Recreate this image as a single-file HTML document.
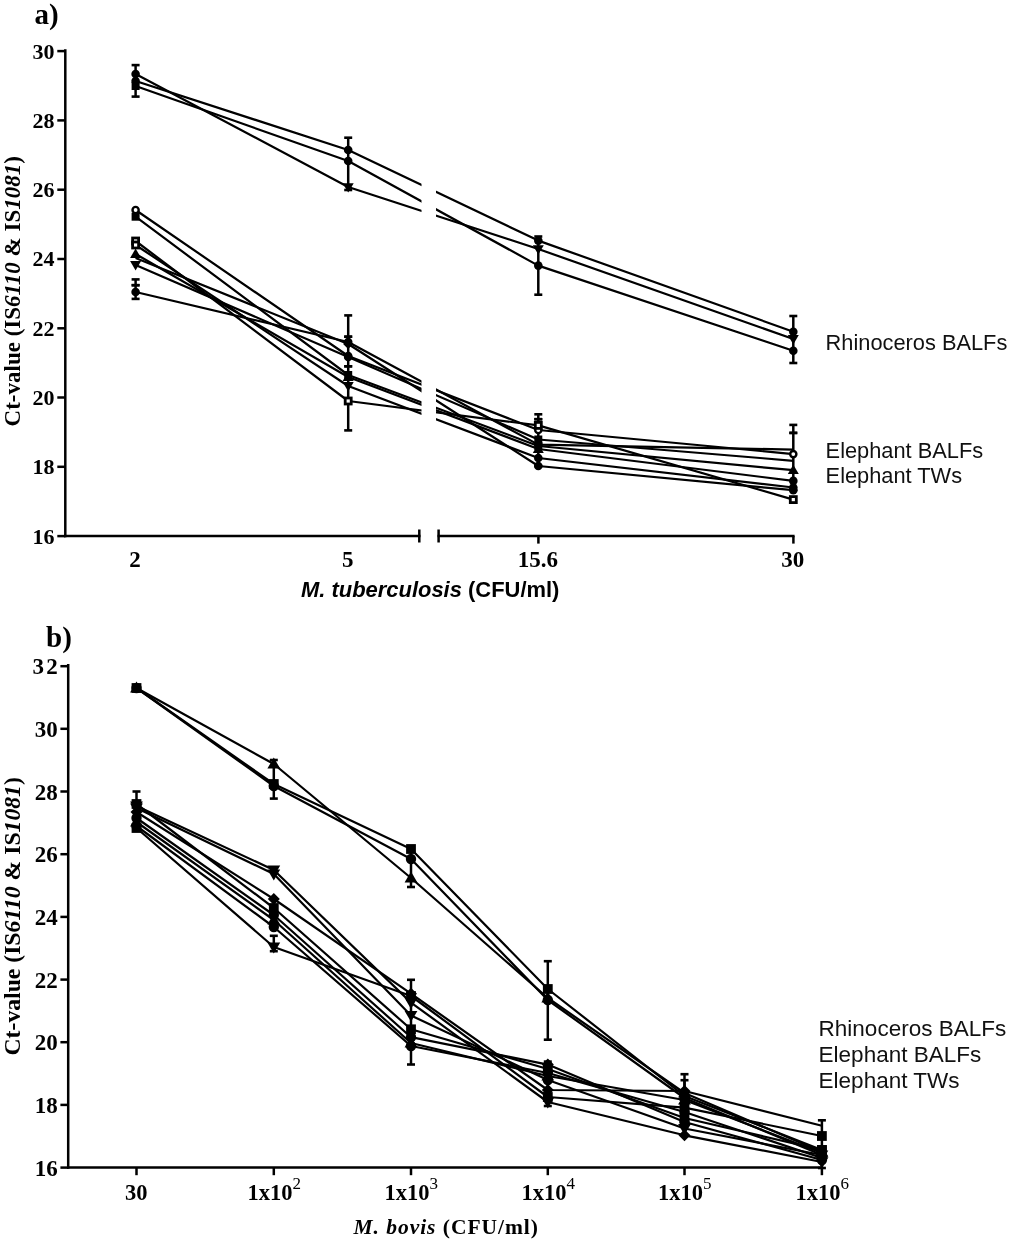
<!DOCTYPE html><html><head><meta charset="utf-8"><style>html,body{margin:0;padding:0;background:#fff;}svg{display:block;filter:blur(0.4px);}</style></head><body>
<svg width="1010" height="1245" viewBox="0 0 1010 1245">
<rect width="1010" height="1245" fill="#fff"/>
<text x="34.5" y="24.3" font-family='"Liberation Serif", serif' font-size="29" font-weight="bold" font-style="normal" text-anchor="start" >a)</text>
<line x1="65.3" y1="49.3" x2="65.3" y2="537.3" stroke="#000" stroke-width="2.5"/>
<line x1="57.3" y1="536.1" x2="65.3" y2="536.1" stroke="#000" stroke-width="2.5"/>
<text x="54.6" y="543.6" font-family='"Liberation Serif", serif' font-size="22" font-weight="bold" font-style="normal" text-anchor="end" >16</text>
<line x1="57.3" y1="466.8" x2="65.3" y2="466.8" stroke="#000" stroke-width="2.5"/>
<text x="54.6" y="474.32000000000005" font-family='"Liberation Serif", serif' font-size="22" font-weight="bold" font-style="normal" text-anchor="end" >18</text>
<line x1="57.3" y1="397.5" x2="65.3" y2="397.5" stroke="#000" stroke-width="2.5"/>
<text x="54.6" y="405.04" font-family='"Liberation Serif", serif' font-size="22" font-weight="bold" font-style="normal" text-anchor="end" >20</text>
<line x1="57.3" y1="328.3" x2="65.3" y2="328.3" stroke="#000" stroke-width="2.5"/>
<text x="54.6" y="335.76" font-family='"Liberation Serif", serif' font-size="22" font-weight="bold" font-style="normal" text-anchor="end" >22</text>
<line x1="57.3" y1="259.0" x2="65.3" y2="259.0" stroke="#000" stroke-width="2.5"/>
<text x="54.6" y="266.48" font-family='"Liberation Serif", serif' font-size="22" font-weight="bold" font-style="normal" text-anchor="end" >24</text>
<line x1="57.3" y1="189.7" x2="65.3" y2="189.7" stroke="#000" stroke-width="2.5"/>
<text x="54.6" y="197.20000000000005" font-family='"Liberation Serif", serif' font-size="22" font-weight="bold" font-style="normal" text-anchor="end" >26</text>
<line x1="57.3" y1="120.4" x2="65.3" y2="120.4" stroke="#000" stroke-width="2.5"/>
<text x="54.6" y="127.92000000000002" font-family='"Liberation Serif", serif' font-size="22" font-weight="bold" font-style="normal" text-anchor="end" >28</text>
<line x1="57.3" y1="51.1" x2="65.3" y2="51.1" stroke="#000" stroke-width="2.5"/>
<text x="54.6" y="58.639999999999986" font-family='"Liberation Serif", serif' font-size="22" font-weight="bold" font-style="normal" text-anchor="end" >30</text>
<line x1="64.1" y1="536.1" x2="420.5" y2="536.1" stroke="#000" stroke-width="2.5"/>
<line x1="419.3" y1="529.5" x2="419.3" y2="542.5" stroke="#000" stroke-width="2.5"/>
<line x1="437.5" y1="536.1" x2="794.6" y2="536.1" stroke="#000" stroke-width="2.5"/>
<line x1="438.6" y1="529.5" x2="438.6" y2="542.5" stroke="#000" stroke-width="2.5"/>
<line x1="538.4" y1="536.1" x2="538.4" y2="543.6" stroke="#000" stroke-width="2.5"/>
<line x1="793.4" y1="536.1" x2="793.4" y2="543.6" stroke="#000" stroke-width="2.5"/>
<text x="135.1" y="567.4" font-family='"Liberation Serif", serif' font-size="23" font-weight="bold" font-style="normal" text-anchor="middle" >2</text>
<text x="347.7" y="567.4" font-family='"Liberation Serif", serif' font-size="23" font-weight="bold" font-style="normal" text-anchor="middle" >5</text>
<text x="537.8" y="567.4" font-family='"Liberation Serif", serif' font-size="23" font-weight="bold" font-style="normal" text-anchor="middle" >15.6</text>
<text x="792.8" y="567.4" font-family='"Liberation Serif", serif' font-size="23" font-weight="bold" font-style="normal" text-anchor="middle" >30</text>
<text x="301" y="596.6" font-family='"Liberation Sans", sans-serif' font-size="21.95" font-weight="bold"><tspan font-style="italic">M. tuberculosis</tspan> (CFU/ml)</text>
<text transform="translate(19.6,426.4) rotate(-90)" x="0" y="0" font-family='"Liberation Serif", serif' font-size="23.0" font-weight="bold">Ct-value (IS<tspan font-style="italic">6110</tspan> &amp; IS<tspan font-style="italic">1081</tspan>)</text>
<text x="825.6" y="350.2" font-family='"Liberation Sans", sans-serif' font-size="21.8" font-weight="normal" font-style="normal" text-anchor="start" fill="#111">Rhinoceros BALFs</text>
<text x="825.6" y="457.8" font-family='"Liberation Sans", sans-serif' font-size="21.8" font-weight="normal" font-style="normal" text-anchor="start" fill="#111">Elephant BALFs</text>
<text x="825.6" y="482.8" font-family='"Liberation Sans", sans-serif' font-size="21.8" font-weight="normal" font-style="normal" text-anchor="start" fill="#111">Elephant TWs</text>
<defs><clipPath id="brkA"><rect x="0" y="0" width="421.5" height="1245"/><rect x="436" y="0" width="600" height="1245"/></clipPath></defs>
<g clip-path="url(#brkA)">
<polyline points="135.6,81.0 348.2,150.0 538.3,240.6 793.3,331.7" fill="none" stroke="#000" stroke-width="2.2" stroke-linejoin="round"/>
<polyline points="135.6,86.0 348.2,161.0 538.3,265.6 793.3,350.8" fill="none" stroke="#000" stroke-width="2.2" stroke-linejoin="round"/>
<polyline points="135.6,74.0 348.2,187.0 538.3,249.0 793.3,339.0" fill="none" stroke="#000" stroke-width="2.2" stroke-linejoin="round"/>
<polyline points="135.6,210.0 348.2,356.0 538.3,430.0 793.3,454.1" fill="none" stroke="#000" stroke-width="2.2" stroke-linejoin="round"/>
<polyline points="135.6,216.7 348.2,375.0 538.3,446.0 793.3,470.2" fill="none" stroke="#000" stroke-width="2.2" stroke-linejoin="round"/>
<polyline points="135.6,241.0 348.2,401.0 538.3,425.4 793.3,499.6" fill="none" stroke="#000" stroke-width="2.2" stroke-linejoin="round"/>
<polyline points="135.6,245.0 348.2,386.0 538.3,458.0 793.3,487.5" fill="none" stroke="#000" stroke-width="2.2" stroke-linejoin="round"/>
<polyline points="135.6,254.0 348.2,377.0 538.3,449.0 793.3,480.9" fill="none" stroke="#000" stroke-width="2.2" stroke-linejoin="round"/>
<polyline points="135.6,258.0 348.2,344.0 538.3,466.0 793.3,490.2" fill="none" stroke="#000" stroke-width="2.2" stroke-linejoin="round"/>
<polyline points="135.6,265.0 348.2,357.0 538.3,439.5 793.3,460.8" fill="none" stroke="#000" stroke-width="2.2" stroke-linejoin="round"/>
<polyline points="135.6,292.0 348.2,342.0 538.3,444.6 793.3,449.6" fill="none" stroke="#000" stroke-width="2.2" stroke-linejoin="round"/>
</g>
<line x1="135.6" y1="65.1" x2="135.6" y2="96.6" stroke="#000" stroke-width="2.5"/>
<line x1="131.6" y1="65.1" x2="139.6" y2="65.1" stroke="#000" stroke-width="2.6"/>
<line x1="131.6" y1="96.6" x2="139.6" y2="96.6" stroke="#000" stroke-width="2.6"/>
<line x1="348.2" y1="137.7" x2="348.2" y2="190.0" stroke="#000" stroke-width="2.5"/>
<line x1="344.2" y1="137.7" x2="352.2" y2="137.7" stroke="#000" stroke-width="2.6"/>
<line x1="344.2" y1="190.0" x2="352.2" y2="190.0" stroke="#000" stroke-width="2.6"/>
<line x1="538.3" y1="236.5" x2="538.3" y2="294.7" stroke="#000" stroke-width="2.5"/>
<line x1="534.3" y1="236.5" x2="542.3" y2="236.5" stroke="#000" stroke-width="2.6"/>
<line x1="534.3" y1="294.7" x2="542.3" y2="294.7" stroke="#000" stroke-width="2.6"/>
<line x1="793.3" y1="316.0" x2="793.3" y2="363.0" stroke="#000" stroke-width="2.5"/>
<line x1="789.3" y1="316.0" x2="797.3" y2="316.0" stroke="#000" stroke-width="2.6"/>
<line x1="789.3" y1="363.0" x2="797.3" y2="363.0" stroke="#000" stroke-width="2.6"/>
<line x1="135.6" y1="279.4" x2="135.6" y2="298.9" stroke="#000" stroke-width="2.5"/>
<line x1="131.6" y1="279.4" x2="139.6" y2="279.4" stroke="#000" stroke-width="2.6"/>
<line x1="131.6" y1="298.9" x2="139.6" y2="298.9" stroke="#000" stroke-width="2.6"/>
<line x1="135.6" y1="285.2" x2="135.6" y2="285.2" stroke="#000" stroke-width="2.5"/>
<line x1="131.6" y1="285.2" x2="139.6" y2="285.2" stroke="#000" stroke-width="2.6"/>
<line x1="131.6" y1="285.2" x2="139.6" y2="285.2" stroke="#000" stroke-width="2.6"/>
<line x1="348.2" y1="315.4" x2="348.2" y2="430.4" stroke="#000" stroke-width="2.5"/>
<line x1="344.2" y1="315.4" x2="352.2" y2="315.4" stroke="#000" stroke-width="2.6"/>
<line x1="344.2" y1="430.4" x2="352.2" y2="430.4" stroke="#000" stroke-width="2.6"/>
<line x1="348.2" y1="336.7" x2="348.2" y2="336.7" stroke="#000" stroke-width="2.5"/>
<line x1="344.2" y1="336.7" x2="352.2" y2="336.7" stroke="#000" stroke-width="2.6"/>
<line x1="344.2" y1="336.7" x2="352.2" y2="336.7" stroke="#000" stroke-width="2.6"/>
<line x1="348.2" y1="366.3" x2="348.2" y2="366.3" stroke="#000" stroke-width="2.5"/>
<line x1="344.2" y1="366.3" x2="352.2" y2="366.3" stroke="#000" stroke-width="2.6"/>
<line x1="344.2" y1="366.3" x2="352.2" y2="366.3" stroke="#000" stroke-width="2.6"/>
<line x1="538.3" y1="414.3" x2="538.3" y2="466.0" stroke="#000" stroke-width="2.5"/>
<line x1="534.3" y1="414.3" x2="542.3" y2="414.3" stroke="#000" stroke-width="2.6"/>
<line x1="534.3" y1="466.0" x2="542.3" y2="466.0" stroke="#000" stroke-width="2.6"/>
<line x1="538.3" y1="419.2" x2="538.3" y2="419.2" stroke="#000" stroke-width="2.5"/>
<line x1="534.3" y1="419.2" x2="542.3" y2="419.2" stroke="#000" stroke-width="2.6"/>
<line x1="534.3" y1="419.2" x2="542.3" y2="419.2" stroke="#000" stroke-width="2.6"/>
<line x1="793.3" y1="424.9" x2="793.3" y2="490.0" stroke="#000" stroke-width="2.5"/>
<line x1="789.3" y1="424.9" x2="797.3" y2="424.9" stroke="#000" stroke-width="2.6"/>
<line x1="789.3" y1="490.0" x2="797.3" y2="490.0" stroke="#000" stroke-width="2.6"/>
<line x1="793.3" y1="432.9" x2="793.3" y2="432.9" stroke="#000" stroke-width="2.5"/>
<line x1="789.3" y1="432.9" x2="797.3" y2="432.9" stroke="#000" stroke-width="2.6"/>
<line x1="789.3" y1="432.9" x2="797.3" y2="432.9" stroke="#000" stroke-width="2.6"/>
<circle cx="135.6" cy="81.0" r="4.3" fill="#000"/>
<circle cx="348.2" cy="150.0" r="4.3" fill="#000"/>
<circle cx="538.3" cy="240.6" r="4.3" fill="#000"/>
<circle cx="793.3" cy="331.7" r="4.3" fill="#000"/>
<rect x="131.6" y="82.0" width="8.0" height="8.0" fill="#000"/>
<circle cx="348.2" cy="161.0" r="4.3" fill="#000"/>
<circle cx="538.3" cy="265.6" r="4.3" fill="#000"/>
<circle cx="793.3" cy="350.8" r="4.3" fill="#000"/>
<circle cx="135.6" cy="74.0" r="4.3" fill="#000"/>
<path d="M348.2,192.5 L353.7,183.2 L342.7,183.2 Z" fill="#000"/>
<path d="M538.3,254.5 L543.8,245.2 L532.8,245.2 Z" fill="#000"/>
<path d="M793.3,344.5 L798.8,335.1 L787.8,335.1 Z" fill="#000"/>
<circle cx="135.6" cy="210.0" r="3.1" fill="#fff" stroke="#000" stroke-width="2.4"/>
<circle cx="348.2" cy="356.0" r="3.1" fill="#fff" stroke="#000" stroke-width="2.4"/>
<circle cx="538.3" cy="430.0" r="3.1" fill="#fff" stroke="#000" stroke-width="2.4"/>
<circle cx="793.3" cy="454.1" r="3.1" fill="#fff" stroke="#000" stroke-width="2.4"/>
<rect x="131.6" y="212.7" width="8.0" height="8.0" fill="#000"/>
<rect x="344.2" y="371.0" width="8.0" height="8.0" fill="#000"/>
<rect x="534.3" y="442.0" width="8.0" height="8.0" fill="#000"/>
<path d="M793.3,464.7 L798.8,474.1 L787.8,474.1 Z" fill="#000"/>
<rect x="132.6" y="238.0" width="6.0" height="6.0" fill="#fff" stroke="#000" stroke-width="2.8"/>
<rect x="345.2" y="398.0" width="6.0" height="6.0" fill="#fff" stroke="#000" stroke-width="2.8"/>
<rect x="535.3" y="422.4" width="6.0" height="6.0" fill="#fff" stroke="#000" stroke-width="2.8"/>
<rect x="790.3" y="496.6" width="6.0" height="6.0" fill="#fff" stroke="#000" stroke-width="2.8"/>
<rect x="132.6" y="242.0" width="6.0" height="6.0" fill="#fff" stroke="#000" stroke-width="2.8"/>
<path d="M348.2,391.5 L353.7,382.1 L342.7,382.1 Z" fill="#000"/>
<circle cx="538.3" cy="458.0" r="4.3" fill="#000"/>
<circle cx="793.3" cy="487.5" r="4.3" fill="#000"/>
<path d="M135.6,248.5 L141.1,257.9 L130.1,257.9 Z" fill="#000"/>
<path d="M348.2,371.5 L353.7,380.9 L342.7,380.9 Z" fill="#000"/>
<path d="M538.3,443.5 L543.8,452.9 L532.8,452.9 Z" fill="#000"/>
<circle cx="793.3" cy="480.9" r="4.3" fill="#000"/>
<path d="M348.2,338.9 L353.3,344.0 L348.2,349.1 L343.1,344.0 Z" fill="#000"/>
<circle cx="538.3" cy="466.0" r="4.3" fill="#000"/>
<circle cx="793.3" cy="490.2" r="4.3" fill="#000"/>
<path d="M135.6,270.5 L141.1,261.1 L130.1,261.1 Z" fill="#000"/>
<circle cx="348.2" cy="357.0" r="4.3" fill="#000"/>
<rect x="534.3" y="435.5" width="8.0" height="8.0" fill="#000"/>
<circle cx="135.6" cy="292.0" r="4.3" fill="#000"/>
<circle cx="348.2" cy="342.0" r="4.3" fill="#000"/>
<circle cx="538.3" cy="444.6" r="4.3" fill="#000"/>
<text x="46.0" y="646.5" font-family='"Liberation Serif", serif' font-size="29" font-weight="bold" font-style="normal" text-anchor="start" >b)</text>
<line x1="68.2" y1="664.0" x2="68.2" y2="1168.8" stroke="#000" stroke-width="2.5"/>
<line x1="60.4" y1="1167.6" x2="68.2" y2="1167.6" stroke="#000" stroke-width="2.5"/>
<text x="57.8" y="1175.8" font-family='"Liberation Serif", serif' font-size="23" font-weight="bold" font-style="normal" text-anchor="end" >16</text>
<line x1="60.4" y1="1104.9" x2="68.2" y2="1104.9" stroke="#000" stroke-width="2.5"/>
<text x="57.8" y="1113.12" font-family='"Liberation Serif", serif' font-size="23" font-weight="bold" font-style="normal" text-anchor="end" >18</text>
<line x1="60.4" y1="1042.2" x2="68.2" y2="1042.2" stroke="#000" stroke-width="2.5"/>
<text x="57.8" y="1050.44" font-family='"Liberation Serif", serif' font-size="23" font-weight="bold" font-style="normal" text-anchor="end" >20</text>
<line x1="60.4" y1="979.6" x2="68.2" y2="979.6" stroke="#000" stroke-width="2.5"/>
<text x="57.8" y="987.76" font-family='"Liberation Serif", serif' font-size="23" font-weight="bold" font-style="normal" text-anchor="end" >22</text>
<line x1="60.4" y1="916.9" x2="68.2" y2="916.9" stroke="#000" stroke-width="2.5"/>
<text x="57.8" y="925.0799999999999" font-family='"Liberation Serif", serif' font-size="23" font-weight="bold" font-style="normal" text-anchor="end" >24</text>
<line x1="60.4" y1="854.2" x2="68.2" y2="854.2" stroke="#000" stroke-width="2.5"/>
<text x="57.8" y="862.4" font-family='"Liberation Serif", serif' font-size="23" font-weight="bold" font-style="normal" text-anchor="end" >26</text>
<line x1="60.4" y1="791.5" x2="68.2" y2="791.5" stroke="#000" stroke-width="2.5"/>
<text x="57.8" y="799.72" font-family='"Liberation Serif", serif' font-size="23" font-weight="bold" font-style="normal" text-anchor="end" >28</text>
<line x1="60.4" y1="728.8" x2="68.2" y2="728.8" stroke="#000" stroke-width="2.5"/>
<text x="57.8" y="737.04" font-family='"Liberation Serif", serif' font-size="23" font-weight="bold" font-style="normal" text-anchor="end" >30</text>
<line x1="60.4" y1="666.2" x2="68.2" y2="666.2" stroke="#000" stroke-width="2.5"/>
<text x="57.8" y="674.3599999999999" font-family='"Liberation Serif", serif' font-size="23" font-weight="bold" font-style="normal" text-anchor="end" >3<tspan dx="2.4">2</tspan></text>
<line x1="67.0" y1="1167.6" x2="822.6" y2="1167.6" stroke="#000" stroke-width="2.5"/>
<line x1="136.5" y1="1167.6" x2="136.5" y2="1175.2" stroke="#000" stroke-width="2.5"/>
<line x1="273.8" y1="1167.6" x2="273.8" y2="1175.2" stroke="#000" stroke-width="2.5"/>
<line x1="411.0" y1="1167.6" x2="411.0" y2="1175.2" stroke="#000" stroke-width="2.5"/>
<line x1="547.8" y1="1167.6" x2="547.8" y2="1175.2" stroke="#000" stroke-width="2.5"/>
<line x1="684.5" y1="1167.6" x2="684.5" y2="1175.2" stroke="#000" stroke-width="2.5"/>
<line x1="821.9" y1="1167.6" x2="821.9" y2="1175.2" stroke="#000" stroke-width="2.5"/>
<text x="136.2" y="1199.6" font-family='"Liberation Serif", serif' font-size="22.5" font-weight="bold" font-style="normal" text-anchor="middle" >30</text>
<text x="247.4" y="1199.6" font-family='"Liberation Serif", serif' font-size="22.5" font-weight="bold">1x10<tspan font-size="17" dy="-11" font-weight="normal">2</tspan></text>
<text x="384.6" y="1199.6" font-family='"Liberation Serif", serif' font-size="22.5" font-weight="bold">1x10<tspan font-size="17" dy="-11" font-weight="normal">3</tspan></text>
<text x="521.4" y="1199.6" font-family='"Liberation Serif", serif' font-size="22.5" font-weight="bold">1x10<tspan font-size="17" dy="-11" font-weight="normal">4</tspan></text>
<text x="658.1" y="1199.6" font-family='"Liberation Serif", serif' font-size="22.5" font-weight="bold">1x10<tspan font-size="17" dy="-11" font-weight="normal">5</tspan></text>
<text x="795.5" y="1199.6" font-family='"Liberation Serif", serif' font-size="22.5" font-weight="bold">1x10<tspan font-size="17" dy="-11" font-weight="normal">6</tspan></text>
<text x="353.5" y="1234.4" font-family='"Liberation Serif", serif' font-size="21.5" font-weight="bold" letter-spacing="0.96"><tspan font-style="italic">M. bovis</tspan> (CFU/ml)</text>
<text transform="translate(20.4,1055.5) rotate(-90)" x="0" y="0" font-family='"Liberation Serif", serif' font-size="23.7" font-weight="bold">Ct-value (IS<tspan font-style="italic">6110</tspan> &amp; IS<tspan font-style="italic">1081</tspan>)</text>
<text x="818.6" y="1036.4" font-family='"Liberation Sans", sans-serif' font-size="22.5" font-weight="normal" font-style="normal" text-anchor="start" fill="#111">Rhinoceros BALFs</text>
<text x="818.6" y="1062.0" font-family='"Liberation Sans", sans-serif' font-size="22.5" font-weight="normal" font-style="normal" text-anchor="start" fill="#111">Elephant BALFs</text>
<text x="818.6" y="1087.7" font-family='"Liberation Sans", sans-serif' font-size="22.5" font-weight="normal" font-style="normal" text-anchor="start" fill="#111">Elephant TWs</text>
<polyline points="136.5,688.0 273.8,764.0 411.0,878.0 547.8,998.0 684.5,1093.0 821.9,1152.0" fill="none" stroke="#000" stroke-width="2.2" stroke-linejoin="round"/>
<polyline points="136.5,688.0 273.8,784.0 411.0,849.0 547.8,989.0 684.5,1096.0 821.9,1150.0" fill="none" stroke="#000" stroke-width="2.2" stroke-linejoin="round"/>
<polyline points="136.5,688.0 273.8,786.0 411.0,859.0 547.8,1000.0 684.5,1098.0 821.9,1155.0" fill="none" stroke="#000" stroke-width="2.2" stroke-linejoin="round"/>
<polyline points="136.5,806.0 273.8,870.0 411.0,1002.6 547.8,1102.0 684.5,1135.3 821.9,1162.0" fill="none" stroke="#000" stroke-width="2.2" stroke-linejoin="round"/>
<polyline points="136.5,808.0 273.8,874.0 411.0,1015.4 547.8,1080.0 684.5,1128.5 821.9,1155.0" fill="none" stroke="#000" stroke-width="2.2" stroke-linejoin="round"/>
<polyline points="136.5,812.0 273.8,899.0 411.0,993.7 547.8,1090.0 684.5,1091.0 821.9,1125.7" fill="none" stroke="#000" stroke-width="2.2" stroke-linejoin="round"/>
<polyline points="136.5,804.0 273.8,908.0 411.0,1029.3 547.8,1069.0 684.5,1118.0 821.9,1150.0" fill="none" stroke="#000" stroke-width="2.2" stroke-linejoin="round"/>
<polyline points="136.5,818.0 273.8,915.0 411.0,1037.2 547.8,1064.6 684.5,1122.0 821.9,1160.0" fill="none" stroke="#000" stroke-width="2.2" stroke-linejoin="round"/>
<polyline points="136.5,822.0 273.8,920.0 411.0,1043.0 547.8,1076.0 684.5,1100.0 821.9,1153.0" fill="none" stroke="#000" stroke-width="2.2" stroke-linejoin="round"/>
<polyline points="136.5,826.0 273.8,927.0 411.0,1046.0 547.8,1073.0 684.5,1112.0 821.9,1158.0" fill="none" stroke="#000" stroke-width="2.2" stroke-linejoin="round"/>
<polyline points="136.5,828.0 273.8,947.0 411.0,996.0 547.8,1097.0 684.5,1107.7 821.9,1136.0" fill="none" stroke="#000" stroke-width="2.2" stroke-linejoin="round"/>
<line x1="684.5" y1="1080.2" x2="684.5" y2="1125.0" stroke="#000" stroke-width="2.5"/>
<line x1="680.5" y1="1080.2" x2="688.5" y2="1080.2" stroke="#000" stroke-width="2.6"/>
<line x1="680.5" y1="1125.0" x2="688.5" y2="1125.0" stroke="#000" stroke-width="2.6"/>
<line x1="136.5" y1="791.5" x2="136.5" y2="830.0" stroke="#000" stroke-width="2.5"/>
<line x1="132.5" y1="791.5" x2="140.5" y2="791.5" stroke="#000" stroke-width="2.6"/>
<line x1="132.5" y1="830.0" x2="140.5" y2="830.0" stroke="#000" stroke-width="2.6"/>
<line x1="273.8" y1="760.0" x2="273.8" y2="798.6" stroke="#000" stroke-width="2.5"/>
<line x1="269.8" y1="760.0" x2="277.8" y2="760.0" stroke="#000" stroke-width="2.6"/>
<line x1="269.8" y1="798.6" x2="277.8" y2="798.6" stroke="#000" stroke-width="2.6"/>
<line x1="273.8" y1="935.8" x2="273.8" y2="951.2" stroke="#000" stroke-width="2.5"/>
<line x1="269.8" y1="935.8" x2="277.8" y2="935.8" stroke="#000" stroke-width="2.6"/>
<line x1="269.8" y1="951.2" x2="277.8" y2="951.2" stroke="#000" stroke-width="2.6"/>
<line x1="411.0" y1="847.0" x2="411.0" y2="887.0" stroke="#000" stroke-width="2.5"/>
<line x1="407.0" y1="847.0" x2="415.0" y2="847.0" stroke="#000" stroke-width="2.6"/>
<line x1="407.0" y1="887.0" x2="415.0" y2="887.0" stroke="#000" stroke-width="2.6"/>
<line x1="411.0" y1="979.8" x2="411.0" y2="1064.5" stroke="#000" stroke-width="2.5"/>
<line x1="407.0" y1="979.8" x2="415.0" y2="979.8" stroke="#000" stroke-width="2.6"/>
<line x1="407.0" y1="1064.5" x2="415.0" y2="1064.5" stroke="#000" stroke-width="2.6"/>
<line x1="547.8" y1="961.2" x2="547.8" y2="1039.7" stroke="#000" stroke-width="2.5"/>
<line x1="543.8" y1="961.2" x2="551.8" y2="961.2" stroke="#000" stroke-width="2.6"/>
<line x1="543.8" y1="1039.7" x2="551.8" y2="1039.7" stroke="#000" stroke-width="2.6"/>
<line x1="547.8" y1="1061.6" x2="547.8" y2="1106.0" stroke="#000" stroke-width="2.5"/>
<line x1="543.8" y1="1061.6" x2="551.8" y2="1061.6" stroke="#000" stroke-width="2.6"/>
<line x1="543.8" y1="1106.0" x2="551.8" y2="1106.0" stroke="#000" stroke-width="2.6"/>
<line x1="684.5" y1="1074.2" x2="684.5" y2="1125.0" stroke="#000" stroke-width="2.5"/>
<line x1="680.5" y1="1074.2" x2="688.5" y2="1074.2" stroke="#000" stroke-width="2.6"/>
<line x1="680.5" y1="1125.0" x2="688.5" y2="1125.0" stroke="#000" stroke-width="2.6"/>
<line x1="821.9" y1="1120.3" x2="821.9" y2="1168.0" stroke="#000" stroke-width="2.5"/>
<line x1="817.9" y1="1120.3" x2="825.9" y2="1120.3" stroke="#000" stroke-width="2.6"/>
<line x1="817.9" y1="1168.0" x2="825.9" y2="1168.0" stroke="#000" stroke-width="2.6"/>
<path d="M136.5,681.6 L142.9,692.5 L130.1,692.5 Z" fill="#000"/>
<path d="M273.8,757.6 L280.2,768.5 L267.4,768.5 Z" fill="#000"/>
<path d="M411.0,871.6 L417.4,882.5 L404.6,882.5 Z" fill="#000"/>
<path d="M547.8,991.6 L554.2,1002.5 L541.4,1002.5 Z" fill="#000"/>
<path d="M684.5,1086.6 L690.9,1097.5 L678.1,1097.5 Z" fill="#000"/>
<path d="M821.9,1145.6 L828.3,1156.5 L815.5,1156.5 Z" fill="#000"/>
<rect x="131.6" y="683.1" width="9.8" height="9.8" fill="#000"/>
<rect x="268.9" y="779.1" width="9.8" height="9.8" fill="#000"/>
<rect x="406.1" y="844.1" width="9.8" height="9.8" fill="#000"/>
<rect x="542.9" y="984.1" width="9.8" height="9.8" fill="#000"/>
<rect x="679.6" y="1091.1" width="9.8" height="9.8" fill="#000"/>
<rect x="817.0" y="1145.1" width="9.8" height="9.8" fill="#000"/>
<circle cx="136.5" cy="688.0" r="5.2" fill="#000"/>
<circle cx="273.8" cy="786.0" r="5.2" fill="#000"/>
<circle cx="411.0" cy="859.0" r="5.2" fill="#000"/>
<circle cx="547.8" cy="1000.0" r="5.2" fill="#000"/>
<circle cx="684.5" cy="1098.0" r="5.2" fill="#000"/>
<circle cx="821.9" cy="1155.0" r="5.2" fill="#000"/>
<path d="M136.5,812.4 L142.9,801.5 L130.1,801.5 Z" fill="#000"/>
<path d="M273.8,876.4 L280.2,865.5 L267.4,865.5 Z" fill="#000"/>
<path d="M411.0,1009.0 L417.4,998.1 L404.6,998.1 Z" fill="#000"/>
<path d="M547.8,1108.4 L554.2,1097.5 L541.4,1097.5 Z" fill="#000"/>
<path d="M684.5,1129.3 L690.5,1135.3 L684.5,1141.3 L678.5,1135.3 Z" fill="#000"/>
<path d="M821.9,1168.4 L828.3,1157.5 L815.5,1157.5 Z" fill="#000"/>
<path d="M136.5,814.4 L142.9,803.5 L130.1,803.5 Z" fill="#000"/>
<path d="M273.8,880.4 L280.2,869.5 L267.4,869.5 Z" fill="#000"/>
<path d="M411.0,1021.8 L417.4,1010.9 L404.6,1010.9 Z" fill="#000"/>
<circle cx="547.8" cy="1080.0" r="5.2" fill="#000"/>
<path d="M684.5,1134.9 L690.9,1124.0 L678.1,1124.0 Z" fill="#000"/>
<path d="M821.9,1161.4 L828.3,1150.5 L815.5,1150.5 Z" fill="#000"/>
<path d="M136.5,806.0 L142.5,812.0 L136.5,818.0 L130.5,812.0 Z" fill="#000"/>
<path d="M273.8,893.0 L279.8,899.0 L273.8,905.0 L267.8,899.0 Z" fill="#000"/>
<path d="M411.0,987.7 L417.0,993.7 L411.0,999.7 L405.0,993.7 Z" fill="#000"/>
<path d="M547.8,1084.0 L553.8,1090.0 L547.8,1096.0 L541.8,1090.0 Z" fill="#000"/>
<path d="M684.5,1085.0 L690.5,1091.0 L684.5,1097.0 L678.5,1091.0 Z" fill="#000"/>
<rect x="131.6" y="799.1" width="9.8" height="9.8" fill="#000"/>
<rect x="268.9" y="903.1" width="9.8" height="9.8" fill="#000"/>
<rect x="406.1" y="1024.4" width="9.8" height="9.8" fill="#000"/>
<rect x="542.9" y="1064.1" width="9.8" height="9.8" fill="#000"/>
<rect x="679.6" y="1113.1" width="9.8" height="9.8" fill="#000"/>
<rect x="817.0" y="1145.1" width="9.8" height="9.8" fill="#000"/>
<circle cx="136.5" cy="818.0" r="5.2" fill="#000"/>
<circle cx="273.8" cy="915.0" r="5.2" fill="#000"/>
<circle cx="411.0" cy="1037.2" r="5.2" fill="#000"/>
<path d="M547.8,1058.6 L553.8,1064.6 L547.8,1070.6 L541.8,1064.6 Z" fill="#000"/>
<circle cx="684.5" cy="1122.0" r="5.2" fill="#000"/>
<circle cx="821.9" cy="1160.0" r="5.2" fill="#000"/>
<path d="M136.5,815.6 L142.9,826.5 L130.1,826.5 Z" fill="#000"/>
<path d="M273.8,913.6 L280.2,924.5 L267.4,924.5 Z" fill="#000"/>
<path d="M411.0,1036.6 L417.4,1047.5 L404.6,1047.5 Z" fill="#000"/>
<path d="M547.8,1069.6 L554.2,1080.5 L541.4,1080.5 Z" fill="#000"/>
<path d="M684.5,1093.6 L690.9,1104.5 L678.1,1104.5 Z" fill="#000"/>
<path d="M821.9,1146.6 L828.3,1157.5 L815.5,1157.5 Z" fill="#000"/>
<circle cx="136.5" cy="826.0" r="5.2" fill="#000"/>
<circle cx="273.8" cy="927.0" r="5.2" fill="#000"/>
<circle cx="411.0" cy="1046.0" r="5.2" fill="#000"/>
<circle cx="547.8" cy="1073.0" r="5.2" fill="#000"/>
<circle cx="684.5" cy="1112.0" r="5.2" fill="#000"/>
<circle cx="821.9" cy="1158.0" r="5.2" fill="#000"/>
<rect x="131.6" y="823.1" width="9.8" height="9.8" fill="#000"/>
<path d="M273.8,953.4 L280.2,942.5 L267.4,942.5 Z" fill="#000"/>
<rect x="406.1" y="991.1" width="9.8" height="9.8" fill="#000"/>
<rect x="542.9" y="1092.1" width="9.8" height="9.8" fill="#000"/>
<rect x="679.6" y="1102.8" width="9.8" height="9.8" fill="#000"/>
<rect x="817.0" y="1131.1" width="9.8" height="9.8" fill="#000"/>
</svg></body></html>
